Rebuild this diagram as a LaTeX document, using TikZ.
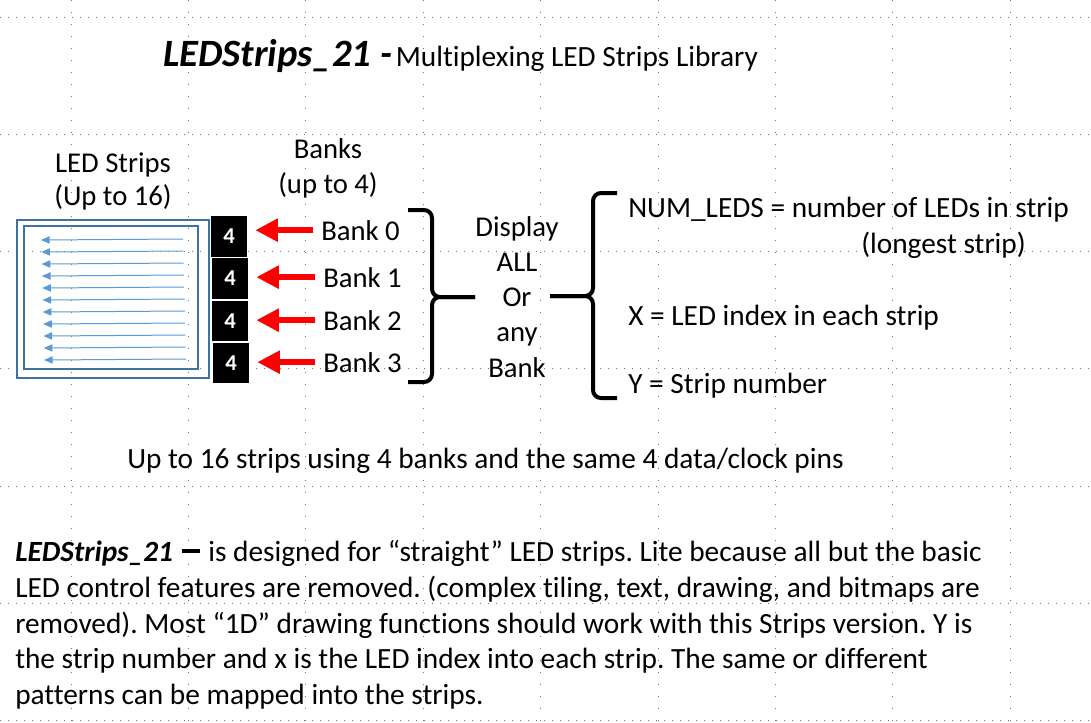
\documentclass[tikz,border=0pt]{standalone}
\usepackage{fontspec}
\setmainfont{Carlito}[Ligatures={NoCommon}]
\usepackage{xcolor}
\usepackage{tikz}
\usetikzlibrary{arrows.meta,positioning,calc}

\definecolor{stripblue}{HTML}{5B9BD5}
\definecolor{frameblue}{HTML}{41719C}
\frenchspacing

\begin{document}
\begin{tikzpicture}[
    x=0.75pt, y=-0.75pt,
    every node/.style={inner sep=0pt},
    hgrid/.style={draw=black!55, line width=0.75pt, dash pattern=on 0.75pt off 5.25pt},
    vgrid/.style={draw=black!55, line width=0.75pt, dash pattern=on 0.75pt off 8.25pt},
    frame/.style={draw=frameblue, line width=1.5pt},
    striparrow/.style={draw=stripblue, line width=0.75pt,
                       -{Triangle[length=6.5pt, width=5.5pt]}},
    numbox/.style={fill=black, minimum width=27pt, minimum height=30.5pt,
                   text=white, font=\fontsize{17}{20}\selectfont\bfseries},
    lbl/.style={anchor=base, font=\fontsize{21.5}{26}\selectfont},
    banklbl/.style={anchor=base west, font=\fontsize{21.5}{26}\selectfont},
    bodytext/.style={anchor=base west, font=\fontsize{22}{26}\selectfont},
    bankarrow/.style={draw=red, line width=5pt, shorten <=6pt, shorten >=6pt,
                      -{Triangle[length=17pt, width=16.5pt]}},
    brace/.style={draw=black, line width=3pt, rounded corners=6pt},
]
\useasboundingbox (0,0) rectangle (1091,722);

% --- background grid ---
\foreach \gx in {0,...,8}
    \draw[vgrid] (71+117.4*\gx,0) -- (71+117.4*\gx,722);
\foreach \gy in {0,...,6}
    \draw[hgrid] (0,17+117.3*\gy) -- (1091,17+117.3*\gy);

% --- title ---
\node[anchor=base west] (title) at (163,66)
    {{\fontsize{29}{34}\selectfont\bfseries\itshape LEDStrips\_21 -}\hspace{3pt}%
     {\fontsize{22}{26}\selectfont Multiplexing LED Strips Library}};

% --- headings ---
\node[lbl] (stripsA) at (113,172) {LED Strips};
\node[lbl] (stripsB) at (113,205) {(Up to 16)};
\node[lbl] (banksA) at (328,158) {Banks};
\node[lbl] (banksB) at (328,193) {(up to 4)};

% --- strip panel ---
\draw[frame] (17,220) rectangle (209,378);
\draw[frame] (24,226) rectangle (198,369);
\foreach \k in {0,...,10}
    \draw[striparrow] (183+0.3*\k,239+12*\k) -- (41+0.3*\k,240+12*\k);

% --- banks ---
\foreach \i/\bx/\by/\lx/\ly in {0/229/236.5/321/240, 1/230/278.5/323/287,
                                2/230/321/323/330, 3/231/363/323/372} {
    \node[numbox] (box\i) at (\bx,\by) {4};
    \node[banklbl] (bank\i) at (\lx,\ly) {Bank \i};
    \draw[bankarrow] (bank\i.west) -- (bank\i.west -| box\i.east);
}

% --- braces ---
\draw[brace] (408,210) -- (432,210) -- (432,297) -- (475,297);
\draw[brace] (408,382) -- (432,382) -- (432,297) -- (475,297);
\draw[brace] (617,193) -- (593,193) -- (593,296) -- (550,296);
\draw[brace] (617,398) -- (593,398) -- (593,296) -- (550,296);

\foreach \w [count=\i] in {Display,ALL,Or,any,Bank}
    \node[lbl] (mid\i) at (517,236+35.3*\i-35.3) {\w};

% --- definitions ---
\node[bodytext] (numleds) at (628,217) {NUM\_LEDS = number of LEDs in strip};
\node[bodytext] (longest) at (861,253) {(longest strip)};
\node[bodytext] (xidx) at (628,325) {X = LED index in each strip};
\node[bodytext] (ynum) at (628,393) {Y = Strip number};

% --- caption and notes ---
\node[bodytext] (caption) at (127,468)
    {Up to 16 strips using 4 banks and the same 4 data/clock pins};
\node[bodytext] (body1) at (15,561)
    {\textbf{\textit{LEDStrips\_21}}\hspace{6.5pt}\rule[6pt]{14pt}{3pt}\hspace{6pt}is designed for “straight” LED strips. Lite because all but the basic};
\node[bodytext] (body2) at (15,597)
    {LED control features are removed. (complex tiling, text, drawing, and bitmaps are};
\node[bodytext] (body3) at (15,633)
    {removed). Most “1D” drawing functions should work with this Strips version. Y is};
\node[bodytext] (body4) at (15,668)
    {the strip number and x is the LED index into each strip. The same or different};
\node[bodytext] (body5) at (15,704)
    {patterns can be mapped into the strips.};

\end{tikzpicture}
\end{document}
